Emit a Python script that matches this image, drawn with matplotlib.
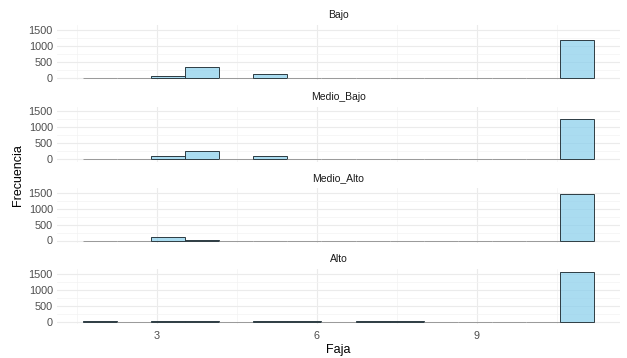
import numpy as np
import matplotlib
matplotlib.use('Agg')
import matplotlib.pyplot as plt

plt.rcParams['font.family'] = ['Liberation Sans', 'DejaVu Sans']

# histogram: 15 bins, first edge and width
bin_start = 1.61
bin_width = 0.64
groups = ['Bajo', 'Medio_Bajo', 'Medio_Alto', 'Alto']
counts = {
    'Bajo':       [0, 0, 63, 340, 0, 95, 0, 0, 0, 0, 0, 0, 0, 0, 1183],
    'Medio_Bajo': [0, 0, 82, 240, 0, 80, 0, 0, 0, 0, 0, 0, 0, 0, 1260],
    'Medio_Alto': [0, 0, 96, 25, 0, 0, 0, 0, 0, 0, 0, 0, 0, 0, 1478],
    'Alto':       [12, 0, 15, 12, 0, 12, 10, 0, 10, 12, 0, 0, 0, 0, 1575],
}
xticks = [3, 6, 9]
yticks = [0, 500, 1000, 1500]

W, H = 627, 358
fig = plt.figure(figsize=(W / 100, H / 100), dpi=100)

# panel pixel boxes
tops = [25, 106.5, 188, 269]
pan_h = 55
left, right = 57, 620

n = len(counts['Bajo'])
centers = bin_start + bin_width * (np.arange(n) + 0.5)
ymax = max(max(v) for v in counts.values())
xlo, xhi = bin_start, bin_start + n * bin_width
xpad = 0.05 * (xhi - xlo)

for i, g in enumerate(groups):
    t = tops[i]
    ax = fig.add_axes([left / W, 1 - (t + pan_h) / H, (right - left) / W, pan_h / H])
    ax.set_facecolor('white')
    for s in ax.spines.values():
        s.set_visible(False)
    ax.set_xlim(xlo - xpad, xhi + xpad)
    ax.set_ylim(-0.05 * ymax, ymax * 1.05)
    ax.set_yticks(yticks)
    ax.set_yticks([250, 750, 1250], minor=True)
    ax.set_xticks(xticks)
    ax.set_xticks([1.5, 4.5, 7.5, 10.5], minor=True)
    ax.grid(True, which='major', color='#ebebeb', linewidth=0.8)
    ax.grid(True, which='minor', color='#f3f3f3', linewidth=0.5)
    ax.set_axisbelow(True)
    ax.tick_params(which='both', length=0)
    ax.tick_params(axis='y', labelsize=7.8, labelcolor='#4d4d4d', pad=3)
    ax.tick_params(axis='x', labelsize=7.8, labelcolor='#4d4d4d', pad=5)
    if i < 3:
        ax.set_xticklabels([])
    c = np.array(counts[g])
    ax.bar(centers, c, width=bin_width, color='#87ceeb', alpha=0.7,
           edgecolor='none')
    edges = ['#999999' if v == 0 else '#2e3c42' for v in c]
    ax.bar(centers, c, width=bin_width, fill=False,
           edgecolor=edges, linewidth=0.7)
    ax.set_title(g, fontsize=7.5, color='#1a1a1a', pad=5)

fig.text(18 / W, 1 - 175 / H, 'Frecuencia', rotation=90, ha='center', va='center',
         fontsize=9, color='black')
fig.text(338 / W, 1 - 350 / H, 'Faja', ha='center', va='center',
         fontsize=9, color='black')

fig.savefig('out.png', dpi=100, facecolor='white')
